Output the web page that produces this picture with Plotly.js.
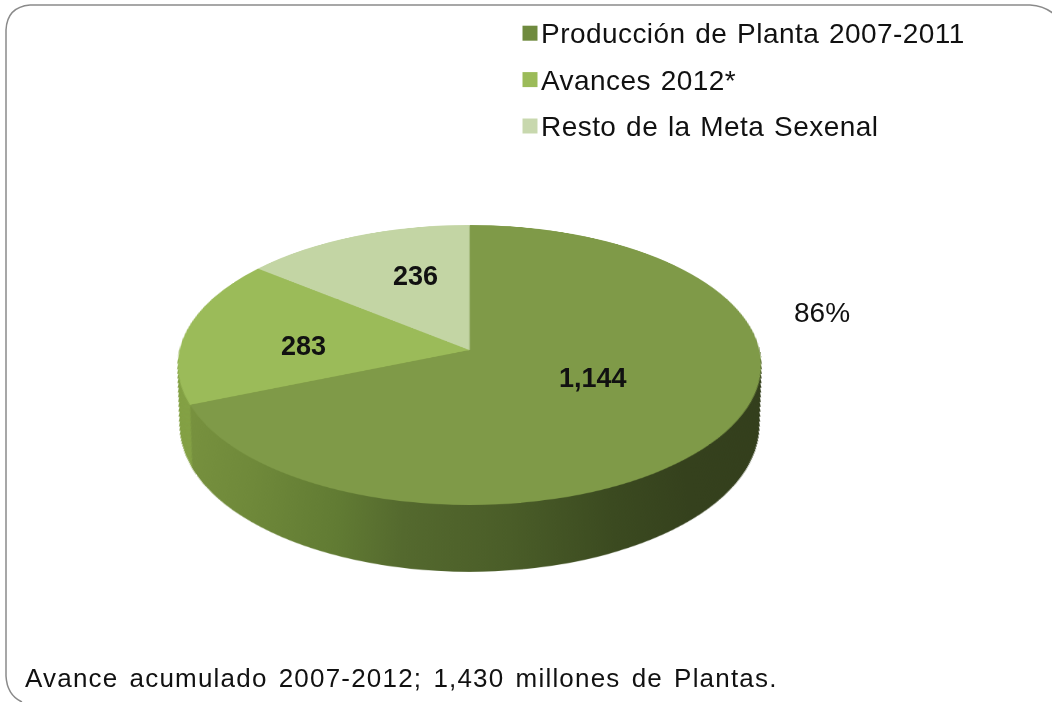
<!DOCTYPE html>
<html><head><meta charset="utf-8">
<script src="https://cdn.plot.ly/plotly-3.0.1.min.js"></script>
<style>html,body{margin:0;padding:0;background:#fff}#c{width:1052px;height:702px}
#c .legendtext{letter-spacing:.45px;word-spacing:1.5px}
#c .legend .scrollbox{clip-path:none !important}</style>
</head><body><div id="c"></div>
<script>
const categories = ['Producción de Planta 2007-2011','Avances 2012*','Resto de la Meta Sexenal'];
const values = [1144,283,236];
const valueLabels = ['1,144','283','236'];
const sliceColors = ['#7f9a48','#9bbb59','#c3d5a4'];
const legendColors = ['#6f8a3e','#9bbb59','#c8d8ae'];
const wallSideColor = '#84a146';
const percentNote = '86%';
const footnote = 'Avance acumulado 2007-2012; 1,430 millones de Plantas.';

const W=1052,H=702,CX=469.5,CY=350,R=250;
const FONT='"Liberation Sans",Arial,sans-serif';
const px=x=>x/W, py=y=>1-y/H;
const dom=(dy,rf)=>({x:[px(CX-R*rf),px(CX+R*rf)],y:[py(CY+dy*R+R*rf),py(CY+dy*R-R*rf)]});

const base={type:'pie',labels:categories,values:values,sort:false,direction:'clockwise',rotation:0,
  textinfo:'none',hoverinfo:'skip',showlegend:false};
const traces=[];
const N=76, D=0.42, RF=0.948;
for(let i=N;i>=1;i--){
  const t=i/N;
  traces.push(Object.assign({},base,{domain:dom(D*t,1+(RF-1)*t),
    marker:{colors:[sliceColors[0],wallSideColor,sliceColors[2]],line:{width:0}}}));
}
const wallCount=traces.length;
traces.push(Object.assign({},base,{domain:dom(0,1),marker:{colors:sliceColors,line:{width:0}}}));
categories.forEach((c,i)=>traces.push({type:'pie',labels:[c],values:[values[i]],textinfo:'none',hoverinfo:'skip',
  legendgroup:'g'+i,showlegend:true,domain:{x:[0,0.0001],y:[0,0.0001]},
  marker:{colors:[legendColors[i]],line:{width:0}}}));

const ann=(text,x,y,size,bold)=>({text:bold?'<b>'+text+'</b>':text,x:px(x),y:py(y),xref:'paper',yref:'paper',
  showarrow:false,xanchor:'center',yanchor:'middle',font:{family:FONT,size:size,color:'#111'}});
const annotations=[
  ann(valueLabels[0],592.5,378,27,true),
  ann(valueLabels[1],303,345.5,27,true),
  ann(valueLabels[2],415,275.5,27,true),
  ann(percentNote,822,312.5,28,false),
  Object.assign(ann(footnote,23,678,26,false),{xanchor:'left',width:790,align:'left'})
];
const u=(x,y)=>px(x)+','+py(y);
const border='M'+u(30,5)+' L'+u(1030,5)+' Q'+u(1046,6)+' '+u(1056,16)+
  ' M'+u(6,30)+' Q'+u(7,7)+' '+u(30,5)+
  ' M'+u(6,30)+' L'+u(6,676)+' Q'+u(7,695)+' '+u(22,702);

const layout={width:W,height:H,margin:{l:0,r:0,t:0,b:0},paper_bgcolor:'rgba(0,0,0,0)',plot_bgcolor:'rgba(0,0,0,0)',
  showlegend:true,
  legend:{x:px(501),y:py(7.5),xanchor:'left',yanchor:'top',traceorder:'grouped',tracegroupgap:7,
    font:{family:FONT,size:28,color:'#111'},bgcolor:'rgba(0,0,0,0)',itemclick:false,itemdoubleclick:false},
  annotations:annotations,
  shapes:[{type:'path',xref:'paper',yref:'paper',path:border,layer:'above',line:{color:'#8a8a8a',width:1.5}}]
};
Plotly.newPlot('c',traces,layout,{displayModeBar:false}).then(()=>{
  const svgs=document.querySelectorAll('#c svg.main-svg');
  const base=svgs[0];
  // Wall shading for the large slice, left to right
  const NS='http://www.w3.org/2000/svg';
  const defs=base.querySelector('defs')||base.insertBefore(document.createElementNS(NS,'defs'),base.firstChild);
  const g=document.createElementNS(NS,'linearGradient');
  g.setAttribute('id','wallGrad');g.setAttribute('gradientUnits','userSpaceOnUse');
  g.setAttribute('x1',CX-R);g.setAttribute('x2',CX+R);g.setAttribute('y1',0);g.setAttribute('y2',0);
  [[0,'#7a9440'],[0.16,'#6f893a'],[0.3,'#617b33'],[0.4,'#54692e'],[0.56,'#4a5d28'],[0.72,'#3b4a20'],[0.84,'#35411d'],[1,'#333e1c']].forEach(s=>{
    const st=document.createElementNS(NS,'stop');st.setAttribute('offset',s[0]);st.setAttribute('stop-color',s[1]);g.appendChild(st);});
  defs.appendChild(g);
  const tr=base.querySelectorAll('.pielayer .trace');
  for(let i=0;i<wallCount;i++){
    const p=tr[i].querySelector('.slice path.surface');
    if(p)p.style.fill='url(#wallGrad)';
  }
  // Tilt the disc layer into the reference's perspective; text stays on the upper layer
  const s=290/R,st=138.4/R,k=0.107/R;
  base.style.transformOrigin=CX+'px '+CY+'px';
  base.style.transform='matrix3d('+[s,0,0,0, 0,st,0,-k, 0,0,1,0, 0,0,0,1].join(',')+')';
  document.querySelectorAll('#c .legend path.legendpie').forEach(p=>{
    p.setAttribute('transform','translate(29,1) scale(1.25)');
  });
  const foot=[...document.querySelectorAll('#c .annotation-text')].find(t=>t.textContent===footnote);
  if(foot){foot.style.letterSpacing='1.2px';foot.style.wordSpacing='2.7px';}
});
</script></body></html>
